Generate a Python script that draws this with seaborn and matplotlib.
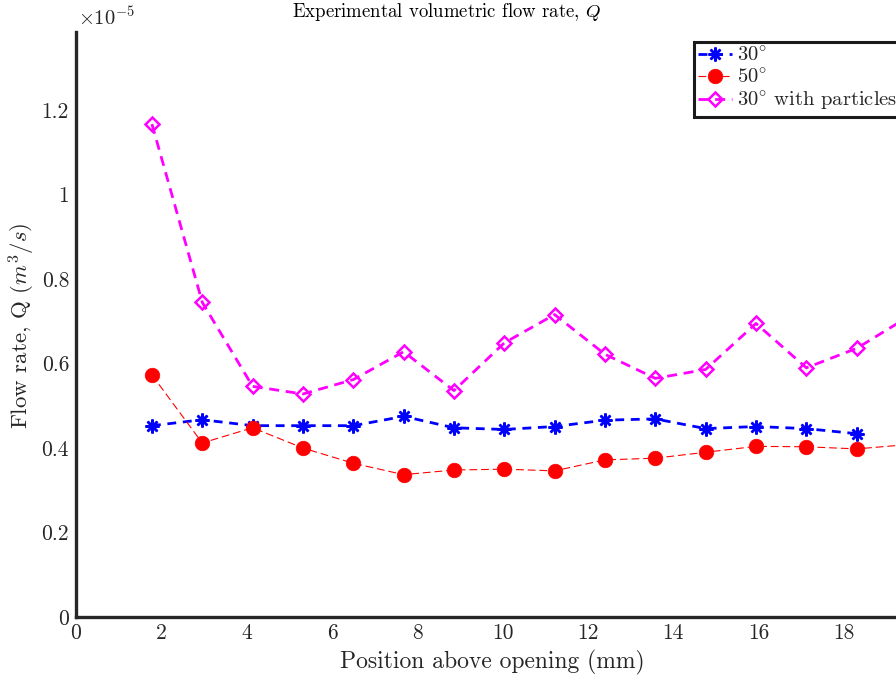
import matplotlib
matplotlib.use("Agg")
import matplotlib.pyplot as plt
from matplotlib.ticker import FuncFormatter, MultipleLocator
import numpy as np
import pandas as pd
import seaborn as sns

# Measurement positions above the opening (mm)
position_mm = [1.78, 2.96, 4.14, 5.32, 6.50, 7.68, 8.86, 10.04, 11.22, 12.40,
               13.58, 14.76, 15.94, 17.12, 18.30, 19.48]

# Volumetric flow rate (m^3/s)
q_30 = [0.453e-5, 0.467e-5, 0.453e-5, 0.453e-5, 0.453e-5, 0.475e-5, 0.448e-5,
        0.444e-5, 0.451e-5, 0.466e-5, 0.469e-5, 0.446e-5, 0.451e-5, 0.446e-5,
        0.434e-5]
q_50 = [0.573e-5, 0.412e-5, 0.448e-5, 0.400e-5, 0.364e-5, 0.337e-5, 0.348e-5,
        0.350e-5, 0.346e-5, 0.372e-5, 0.376e-5, 0.390e-5, 0.404e-5, 0.403e-5,
        0.398e-5, 0.408e-5]
q_30p = [1.167e-5, 0.745e-5, 0.546e-5, 0.528e-5, 0.562e-5, 0.628e-5, 0.536e-5,
         0.649e-5, 0.716e-5, 0.622e-5, 0.565e-5, 0.586e-5, 0.695e-5, 0.590e-5,
         0.636e-5, 0.709e-5]

labels = [r"$30^{\circ}$", r"$50^{\circ}$", r"$30^{\circ}$ with particles"]

sns.set_theme(style="white")
plt.rcParams["font.family"] = ["cmr10", "DejaVu Serif"]
plt.rcParams["mathtext.fontset"] = "cm"
plt.rcParams["axes.unicode_minus"] = False

W, H = 896, 681
fig = plt.figure(figsize=(W / 100, H / 100), dpi=100)
fig.patch.set_facecolor("white")

left, right, top, bottom = 76, 907, 32, 617
ax = fig.add_axes([left / W, (H - bottom) / H, (right - left) / W, (bottom - top) / H])
ax.set_facecolor("white")

df30 = pd.DataFrame({"x": position_mm[:len(q_30)], "q": q_30})
df50 = pd.DataFrame({"x": position_mm[:len(q_50)], "q": q_50})
df30p = pd.DataFrame({"x": position_mm[:len(q_30p)], "q": q_30p})

sns.lineplot(data=df30, x="x", y="q", ax=ax, sort=False, errorbar=None,
             color="#0000ff", linewidth=2.0, linestyle=(0, (3.2, 2.4)),
             marker=(8, 2, 0), markersize=10, markeredgewidth=1.8,
             markeredgecolor="#0000ff", markerfacecolor="#0000ff",
             label=labels[0], zorder=3)
sns.lineplot(data=df50, x="x", y="q", ax=ax, sort=False, errorbar=None,
             color="#ff0000", linewidth=0.8, linestyle=(0, (7, 3.5)),
             marker="o", markersize=10.5, markeredgewidth=0.5,
             markeredgecolor="#ff0000", markerfacecolor="#ff0000",
             label=labels[1], zorder=4)
sns.lineplot(data=df30p, x="x", y="q", ax=ax, sort=False, errorbar=None,
             color="#ff00ff", linewidth=2.0, linestyle=(0, (3.6, 2.4)),
             marker="D", markersize=7.5, markeredgewidth=1.8,
             markeredgecolor="#ff00ff", markerfacecolor="none",
             label=labels[2], zorder=3)

ax.set_xlim(0, 19.48)
ax.set_ylim(0, 1.385e-5)
ax.xaxis.set_major_locator(MultipleLocator(2))
ax.yaxis.set_major_locator(MultipleLocator(0.2e-5))
ax.xaxis.set_major_formatter(FuncFormatter(lambda v, p: f"{v:g}"))
ax.yaxis.set_major_formatter(FuncFormatter(lambda v, p: f"{round(v / 1e-5, 2):g}"))

for side in ("top", "right"):
    ax.spines[side].set_visible(False)
for side in ("left", "bottom"):
    ax.spines[side].set_linewidth(2.4)
    ax.spines[side].set_color("#262626")
ax.tick_params(axis="both", direction="in", length=6.5, width=2.2,
               color="#262626", labelcolor="#262626", labelsize=15.5, pad=5)
ax.set_xlabel("")
ax.set_ylabel("")

fig.text(447 / W, 1 - 12 / H, r"Experimental volumetric flow rate, $Q$",
         ha="center", va="center", fontsize=13.5, color="black")
fig.text(492 / W, 1 - 662 / H, "Position above opening (mm)",
         ha="center", va="center", fontsize=17, color="#262626")
fig.text(22 / W, 1 - 326 / H, r"Flow rate, Q ($m^3/s$)", rotation=90,
         ha="center", va="center", fontsize=16.5, color="#262626")
fig.text(78 / W, 1 - 18 / H, r"$\times10^{-5}$",
         ha="left", va="center", fontsize=14.8, color="#262626")

# Legend sits in the upper-right corner of the (wider) axes, so its frame
# runs just past the right edge of the saved figure.
leg = ax.legend(loc="upper right", bbox_to_anchor=(902 / W, 1 - 42 / H),
                bbox_transform=fig.transFigure, fontsize=14.8, frameon=True,
                fancybox=False, shadow=False, borderpad=0.22,
                labelspacing=0.12, handlelength=1.65, handletextpad=0.25,
                borderaxespad=0.0)
leg.get_frame().set_edgecolor("#1a1a1a")
leg.get_frame().set_linewidth(2.2)
leg.get_frame().set_facecolor("white")
leg.get_frame().set_alpha(1.0)

fig.savefig("out.png", dpi=100, facecolor="white")
